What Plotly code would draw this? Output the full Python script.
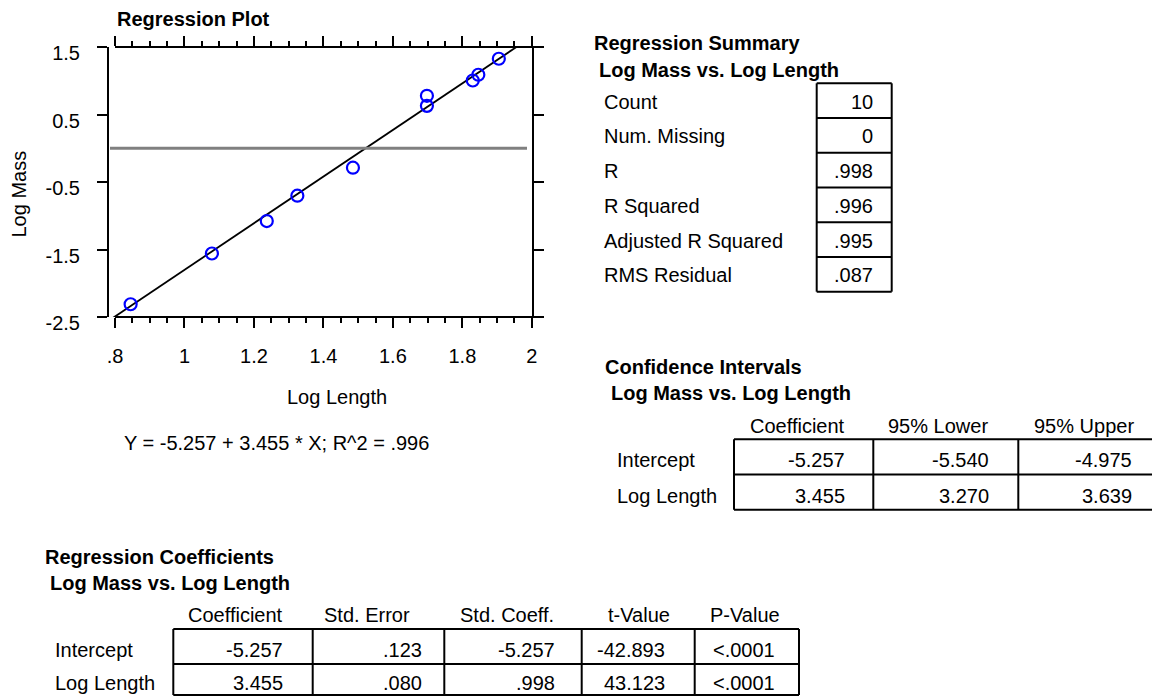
import plotly.graph_objects as go

# ---------------- data ----------------
log_length = [0.845, 1.079, 1.237, 1.325, 1.485, 1.698, 1.698, 1.830, 1.846, 1.905]
log_mass = [-2.311, -1.559, -1.079, -0.703, -0.288, 0.777, 0.628, 1.004, 1.089, 1.326]

intercept = -5.257
slope = 3.455
r_squared_text = ".996"

x_tickvals = [0.8, 1.0, 1.2, 1.4, 1.6, 1.8, 2.0]
x_ticktext = [".8", "1", "1.2", "1.4", "1.6", "1.8", "2"]
y_tickvals = [-2.5, -1.5, -0.5, 0.5, 1.5]
y_ticktext = ["-2.5", "-1.5", "-0.5", "0.5", "1.5"]
reference_y = 0.0

summary_labels = ["Count", "Num. Missing", "R", "R Squared", "Adjusted R Squared", "RMS Residual"]
summary_values = ["10", "0", ".998", ".996", ".995", ".087"]

ci_columns = ["Coefficient", "95% Lower", "95% Upper"]
ci_rows = ["Intercept", "Log Length"]
ci_values = [["-5.257", "-5.540", "-4.975"], ["3.455", "3.270", "3.639"]]

coef_columns = ["Coefficient", "Std. Error", "Std. Coeff.", "t-Value", "P-Value"]
coef_rows = ["Intercept", "Log Length"]
coef_values = [["-5.257", ".123", "-5.257", "-42.893", "<.0001"],
               ["3.455", ".080", ".998", "43.123", "<.0001"]]

# ---------------- layout geometry (pixels) ----------------
W, H = 1152, 696
L, R, T, B = 109, 620, 47, 379
PW, PH = W - L - R, H - T - B
FONT = "Liberation Sans, Arial, Helvetica, sans-serif"
FS = 20

x_lo = 0.8 - 6 / 347.4
x_hi = 2.0005


def px(x):
    return (x - L) / PW


def py(y):
    return (H - B - y) / PH


fig = go.Figure()

# regression line through the fitted coefficients
line_x = [x_lo, x_hi]
line_y = [intercept + slope * v for v in line_x]
fig.add_trace(go.Scatter(x=line_x, y=line_y, mode="lines",
                         line=dict(color="black", width=1.8), hoverinfo="skip"))

fig.add_trace(go.Scatter(x=log_length, y=log_mass, mode="markers",
                         marker=dict(symbol="circle-open", size=12, color="#0000ff",
                                     line=dict(width=2.2, color="#0000ff"))))

shapes = []
annotations = []

# reference (zero) line
shapes.append(dict(type="line", xref="paper", yref="y", x0=px(110), x1=px(527),
                   y0=reference_y, y1=reference_y, line=dict(color="#808080", width=3)))

# top and bottom x axis lines (extend past the right edge)
for yy in (0, 1):
    shapes.append(dict(type="line", xref="paper", yref="paper", x0=px(115), x1=px(542),
                       y0=yy, y1=yy, line=dict(color="black", width=2)))


def text(s, x, y, anchor="left", bold=False, angle=0):
    annotations.append(dict(text=("<b>%s</b>" % s) if bold else s, xref="paper", yref="paper",
                            x=px(x), y=py(y), xanchor=anchor, yanchor="middle",
                            showarrow=False, textangle=angle,
                            font=dict(family=FONT, size=FS, color="black")))


def hline(x0, x1, y):
    shapes.append(dict(type="line", xref="paper", yref="paper", x0=px(x0), x1=px(x1),
                       y0=py(y), y1=py(y), line=dict(color="black", width=2)))


def vline(x, y0, y1):
    shapes.append(dict(type="line", xref="paper", yref="paper", x0=px(x), x1=px(x),
                       y0=py(y0), y1=py(y1), line=dict(color="black", width=2)))


# plot titles
text("Regression Plot", 115, 19.5, bold=True)
text("Log Mass", 18.5, 194, anchor="center", angle=-90)
text("Log Length", 336.7, 396.7, anchor="center")
text("Y = %s + %s * X; R^2 = %s" % (intercept, slope, r_squared_text), 276.7, 443.3, anchor="center")

# ---------- Regression Summary ----------
text("Regression Summary", 591.7, 42.7, bold=True)
text("Log Mass vs. Log Length", 596.7, 70, bold=True)
sx0, sx1 = 816.7, 891.7
sy0, sh = 83.3, 34.73
for i, (lab, val) in enumerate(zip(summary_labels, summary_values)):
    cy = sy0 + sh * (i + 0.5) + 1
    text(lab, 601.7, cy)
    text(val, 875, cy, anchor="right")
for i in range(len(summary_labels) + 1):
    hline(sx0, sx1, sy0 + sh * i)
vline(sx0, sy0, sy0 + sh * len(summary_labels))
vline(sx1, sy0, sy0 + sh * len(summary_labels))

# ---------- Confidence Intervals ----------
text("Confidence Intervals", 602.7, 366.7, bold=True)
text("Log Mass vs. Log Length", 609.3, 393.3, bold=True)
ci_edges = [734, 873.3, 1018.3, 1163]
ci_vright = [847, 991, 1134]
ci_hright = [846.7, 990, 1136]
cy0, ch = 439.3, 35.2
for j, c in enumerate(ci_columns):
    text(c, ci_hright[j], 426, anchor="right")
for i, rlab in enumerate(ci_rows):
    cy = cy0 + ch * (i + 0.5) + 3.5
    text(rlab, 615, cy)
    for j, v in enumerate(ci_values[i]):
        text(v, ci_vright[j], cy, anchor="right")
for i in range(len(ci_rows) + 1):
    hline(ci_edges[0], W + 5, cy0 + ch * i)
for e in ci_edges[:-1]:
    vline(e, cy0, cy0 + ch * len(ci_rows))

# ---------- Regression Coefficients ----------
text("Regression Coefficients", 43, 556.5, bold=True)
text("Log Mass vs. Log Length", 48.3, 583.3, bold=True)
co_edges = [173.3, 312.7, 444.3, 581.7, 694.7, 799]
co_vpos = [(285, "right"), (424, "right"), (557, "right"), (667, "right"), (744, "center")]
co_hpos = [(285, "right"), (412, "right"), (556, "right"), (671.7, "right"), (744.7, "center")]
coy = [629, 664, 695]
for j, c in enumerate(coef_columns):
    text(c, co_hpos[j][0], 615, anchor=co_hpos[j][1])
for i, rlab in enumerate(coef_rows):
    cy = (coy[i] + coy[i + 1]) / 2 + 3.5
    text(rlab, 53.3, cy)
    for j, v in enumerate(coef_values[i]):
        text(v, co_vpos[j][0], cy, anchor=co_vpos[j][1])
for yv in coy:
    hline(co_edges[0], co_edges[-1], yv)
for e in co_edges:
    vline(e, coy[0], coy[-1])

fig.update_layout(
    width=W, height=H,
    margin=dict(l=L, r=R, t=T, b=B, pad=0),
    paper_bgcolor="white", plot_bgcolor="white",
    showlegend=False,
    font=dict(family=FONT, size=FS, color="black"),
    shapes=shapes, annotations=annotations,
    xaxis=dict(range=[x_lo, x_hi], tickvals=x_tickvals, ticktext=x_ticktext,
               showline=False, mirror="ticks", ticks="outside", ticklen=10, tickwidth=2,
               tickcolor="black", showgrid=False, zeroline=False, ticklabelstandoff=11,
               minor=dict(dtick=0.05, tick0=0.8, ticks="outside", ticklen=5, tickwidth=2,
                          tickcolor="black", showgrid=False),
               tickfont=dict(family=FONT, size=FS)),
    yaxis=dict(range=[-2.5001, 1.5001], tickvals=y_tickvals, ticktext=y_ticktext,
               showline=True, linewidth=2, linecolor="black", mirror="ticks",
               ticks="outside", ticklen=10, tickwidth=2, tickcolor="black",
               showgrid=False, zeroline=False, ticklabelstandoff=13, ticklabelshift=6,
               tickfont=dict(family=FONT, size=FS)),
)

fig.write_html("out.html")
